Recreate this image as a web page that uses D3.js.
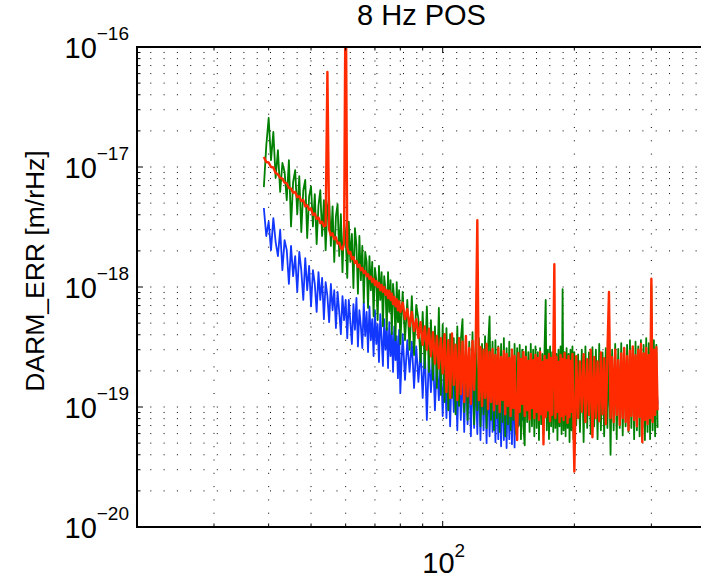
<!DOCTYPE html>
<html>
<head>
<meta charset="utf-8">
<script src="https://cdn.jsdelivr.net/npm/d3@7"></script>
<style>
  html, body { margin: 0; background: #fff; overflow: hidden; }
  svg { display: block; overflow: hidden; }
  text { font-family: "Liberation Sans", Arial, Helvetica, sans-serif; fill: #000; }
</style>
</head>
<body>
<svg id="chart" width="701" height="580"></svg>
<script>
// Frequency bins (Hz) shared by the three spectra
const freqHz = [
  39,39.5,40,40.5,41,41.5,42,42.5,43,43.5,
  44,44.5,45,45.5,46,46.5,47,47.5,48,48.5,
  49,49.5,50,50.5,51,51.5,52,52.5,53,53.5,
  54,54.5,55,55.5,56,56.5,57,57.5,58,58.5,
  59,59.5,60,
  60.5,61,61.5,62,62.5,63,63.5,64,64.5,65,
  65.5,66,66.5,67,67.5,68,68.5,69,69.5,70,
  70.5,71,71.5,72,72.5,73,73.5,74,74.5,75,
  75.5,76,76.5,77,77.5,78,78.5,79,79.5,80,
  81,82,83,84,85,86,87,88,89,90,
  91,92,93,94,95,96,97,98,99,100,
  101,102,103,104,105,106,107,108,109,110,
  111,112,113,114,115,116,117,118,119,120,
  121,122,123,124,125,126,127,128,129,130,
  131,132,133,134,135,136,137,138,139,140,
  141,142,143,144,145,146,147,148,149,150,
  151,152,153,154,155,156,157,158,159,160,
  161,162,163,164,165,166,167,168,169,170,
  171,172,173,174,175,176,177,178,179,180,
  181,182,183,184,185,186,187,188,189,190,
  191,192,193,194,195,196,197,198,199,200,
  202,204,206,208,210,212,214,216,218,220,
  222,224,226,228,230,232,234,236,238,240,
  242,244,246,248,250,252,254,256,258,260,
  262,264,266,268,270,272,274,276,278,280,
  282,284,286,288,290,292,294,296,298,300,
  302,304,306,308,310
];

// DARM_ERR amplitude spectral density, m/rHz (blue trace)
const asdBlue = [
  4.55e-18,2.66e-18,3.5e-18,2.03e-18,3.75e-18,2.37e-18,1.81e-18,3.0e-18,1.38e-18,2.46e-18,
  2.03e-18,1.06e-18,2.2e-18,1.23e-18,1.81e-18,9.1e-19,1.96e-18,1.38e-18,7.8e-19,1.74e-18,
  9.4e-19,1.5e-18,6.9e-19,1.38e-18,1.06e-18,6.2e-19,1.33e-18,7.8e-19,1.19e-18,5.4e-19,
  1.10e-18,8.4e-19,5.1e-19,1.06e-18,6.4e-19,9.4e-19,4.55e-19,9.1e-19,6.2e-19,4.05e-19,
  8.4e-19,5.3e-19,7.8e-19,
  3.75e-19,7.8e-19,5.1e-19,3.35e-19,7.2e-19,4.4e-19,8.1e-19,3.2e-19,6.4e-19,4.7e-19,
  3.1e-19,7.5e-19,3.9e-19,6.2e-19,2.87e-19,6.9e-19,3.6e-19,5.4e-19,2.66e-19,6.4e-19,
  3.35e-19,4.9e-19,2.37e-19,5.95e-19,3.75e-19,2.2e-19,5.4e-19,3.0e-19,4.55e-19,2.11e-19,
  5.1e-19,2.66e-19,4.2e-19,1.96e-19,4.7e-19,2.46e-19,3.9e-19,1.74e-19,4.4e-19,1.31e-19,
  4.05e-19,1.68e-19,3.6e-19,1.96e-19,3.5e-19,1.44e-19,3.2e-19,1.62e-19,3.0e-19,1.19e-19,
  3.1e-19,7.8e-20,2.77e-19,1.33e-19,2.87e-19,9.4e-20,2.56e-19,1.14e-19,2.66e-19,8.4e-20,
  2.46e-19,8.1e-20,2.28e-19,6.9e-20,2.56e-19,9.1e-20,2.2e-19,6.4e-20,2.37e-19,7.8e-20,
  2.11e-19,6.2e-20,2.28e-19,7.2e-20,2.03e-19,5.7e-20,2.2e-19,6.7e-20,1.96e-19,5.95e-20,
  2.11e-19,5.3e-20,2.03e-19,6.4e-20,1.88e-19,5.0e-20,1.96e-19,5.7e-20,1.81e-19,6.2e-20,
  2.03e-19,5.1e-20,1.88e-19,5.4e-20,1.74e-19,4.7e-20,1.96e-19,5.3e-20,1.81e-19,4.55e-20,
  1.88e-19,5.4e-20,1.74e-19,4.9e-20,1.96e-19,4.6e-20,1.81e-19,6.4e-20,1.68e-19,7.1e-20,
  1.88e-19,7.8e-20,1.74e-19,8.4e-20,1.81e-19,9.1e-20,1.68e-19,8.1e-20,1.74e-19,9.4e-20,
  1.62e-19,9.8e-20,1.81e-19,9.1e-20,1.68e-19,1.02e-19,1.74e-19,9.4e-20,1.62e-19,1.06e-19,
  1.81e-19,9.4e-20,1.68e-19,1.02e-19,1.74e-19,9.1e-20,1.62e-19,1.06e-19,1.81e-19,9.4e-20,
  1.68e-19,1.02e-19,1.74e-19,9.1e-20,1.62e-19,1.06e-19,1.81e-19,9.8e-20,1.68e-19,9.4e-20,
  1.74e-19,1.02e-19,1.62e-19,9.1e-20,1.81e-19,1.06e-19,1.68e-19,9.4e-20,1.74e-19,9.8e-20,
  9.6e-20,1.75e-19,1.04e-19,1.9e-19,9.8e-20,1.7e-19,1.0e-19,1.8e-19,9.5e-20,1.85e-19,
  1.05e-19,1.75e-19,9.8e-20,1.8e-19,1.02e-19,1.7e-19,9.6e-20,1.9e-19,1.0e-19,1.75e-19,
  9.8e-20,1.85e-19,1.04e-19,1.7e-19,9.5e-20,1.8e-19,1.02e-19,1.9e-19,9.8e-20,1.75e-19,
  1.0e-19,1.85e-19,9.6e-20,1.7e-19,1.05e-19,1.8e-19,9.8e-20,1.9e-19,1.0e-19,1.75e-19,
  9.5e-20,1.85e-19,1.04e-19,1.7e-19,9.8e-20,1.8e-19,1.02e-19,1.9e-19,9.6e-20,1.75e-19,
  1.0e-19,1.85e-19,9.8e-20,1.7e-19,1.05e-19
];

// DARM_ERR amplitude spectral density, m/rHz (green trace)
const asdGreen = [
  6.8e-18,1.5e-17,2.56e-17,1.14e-17,1.96e-17,8.1e-18,1.38e-17,6.2e-18,1.08e-17,9.1e-18,
  5.3e-18,1.14e-17,3.2e-18,7.5e-18,9.4e-18,4.05e-18,8.4e-18,2.87e-18,6.4e-18,7.8e-18,
  2.56e-18,5.7e-18,6.9e-18,3.2e-18,5.95e-18,2.28e-18,4.8e-18,6.4e-18,2.66e-18,5.3e-18,
  2.03e-18,4.55e-18,5.5e-18,2.2e-18,4.7e-18,1.62e-18,3.9e-18,4.9e-18,1.81e-18,4.05e-18,
  1.33e-18,3.5e-18,2.66e-18,
  1.19e-18,3.5e-18,1.62e-18,2.77e-18,9.8e-19,3.1e-18,2.2e-18,8.8e-19,2.66e-18,1.14e-18,
  2.2e-18,7.4e-19,1.96e-18,1.62e-18,6.7e-19,1.81e-18,9.4e-19,1.62e-18,5.7e-19,1.44e-18,
  1.14e-18,5.3e-19,1.5e-18,7.8e-19,1.33e-18,4.7e-19,1.23e-18,9.4e-19,4.4e-19,1.33e-18,
  6.2e-19,1.14e-18,4.05e-19,1.06e-18,7.8e-19,3.6e-19,1.10e-18,5.1e-19,9.4e-19,3.35e-19,
  9.1e-19,3.6e-19,7.8e-19,3.0e-19,8.4e-19,2.71e-19,7.1e-19,5.4e-19,2.37e-19,6.2e-19,
  2.11e-19,6.9e-19,1.96e-19,5.3e-19,1.68e-19,4.7e-19,1.44e-19,6.7e-19,1.26e-19,4.9e-19,
  1.10e-19,4.55e-19,9.4e-20,4.05e-19,1.19e-19,3.75e-19,8.7e-20,4.7e-19,1.02e-19,3.6e-19,
  5.4e-19,9.1e-20,3.9e-19,7.8e-20,3.5e-19,1.06e-19,4.2e-19,7.2e-20,3.6e-19,9.4e-20,
  3.75e-19,6.9e-20,3.35e-19,8.7e-20,3.9e-19,6.7e-20,3.2e-19,5.7e-19,7.8e-20,3.5e-19,
  6.4e-20,3.6e-19,8.1e-20,3.2e-19,6.2e-20,3.35e-19,7.5e-20,3.75e-19,5.7e-20,3.1e-19,
  7.2e-20,3.5e-19,6.4e-20,3.0e-19,7.8e-20,3.35e-19,5.95e-20,3.1e-19,6.9e-20,3.3e-19,
  5.4e-20,3.0e-19,6.7e-20,4.8e-20,3.2e-19,7.5e-20,2.87e-19,6.2e-20,3.35e-19,6.9e-20,
  3.0e-19,5.7e-20,3.2e-19,6.7e-20,2.87e-19,5.3e-20,3.1e-19,7.2e-20,2.77e-19,5.95e-20,
  3.2e-19,7.8e-19,6.4e-20,3.0e-19,5.4e-20,3.2e-19,6.9e-20,2.87e-19,6.2e-20,3.35e-19,
  6.7e-20,2.77e-19,5.3e-20,3.0e-19,6.9e-20,3.2e-19,5.95e-20,9.6e-19,6.4e-20,2.87e-19,
  5.7e-20,3.1e-19,6.7e-20,2.77e-19,5.1e-20,3.0e-19,6.4e-20,3.2e-19,5.4e-20,2.87e-19,
  7.1e-20,2.75e-19,6.2e-20,3.0e-19,5.1e-20,3.2e-19,6.7e-20,2.85e-19,5.95e-20,3.15e-19,
  6.9e-20,3.0e-19,5.4e-20,3.35e-19,6.4e-20,2.85e-19,5.7e-20,3.1e-19,6.7e-20,3.3e-19,
  4.0e-20,3.0e-19,6.4e-20,3.35e-19,5.4e-20,3.05e-19,6.7e-20,3.4e-19,5.8e-20,3.0e-19,
  6.9e-20,3.3e-19,6.2e-20,3.6e-19,6.7e-20,3.1e-19,5.4e-20,3.5e-19,6.4e-20,3.2e-19,
  5.7e-20,3.6e-19,6.7e-20,3.3e-19,5.3e-20,3.75e-19,6.2e-20,3.4e-19,5.4e-20,1.04e-18,
  6.4e-20,3.6e-19,5.7e-20,3.3e-19,6.7e-20
];

// DARM_ERR amplitude spectral density, m/rHz (red trace)
const asdRed = [
  1.21e-17,1.10e-17,1.09e-17,1.00e-17,9.9e-18,8.9e-18,8.7e-18,8.1e-18,8.0e-18,7.4e-18,
  7.3e-18,6.7e-18,6.6e-18,6.1e-18,6.2e-18,5.6e-18,5.7e-18,5.2e-18,5.3e-18,4.7e-18,
  4.8e-18,4.4e-18,4.5e-18,4.0e-18,4.1e-18,3.7e-18,3.8e-18,3.4e-18,3.5e-18,3.2e-18,
  3.25e-18,6.2e-17,3.0e-18,2.7e-18,2.8e-18,2.5e-18,2.6e-18,2.3e-18,2.35e-18,2.1e-18,
  2.05e-18,2.3e-18,5e-16,
  2.15e-18,1.9e-18,1.96e-18,1.71e-18,1.78e-18,1.58e-18,1.65e-18,1.47e-18,1.53e-18,1.38e-18,
  1.44e-18,1.31e-18,1.36e-18,1.23e-18,1.28e-18,1.17e-18,1.22e-18,1.10e-18,1.17e-18,1.04e-18,
  1.12e-18,1.0e-18,1.08e-18,9.4e-19,1.04e-18,9.1e-19,1.0e-18,8.6e-19,9.4e-19,8.1e-19,
  9.3e-19,7.8e-19,8.8e-19,7.2e-19,8.25e-19,6.9e-19,7.9e-19,6.4e-19,7.6e-19,6.2e-19,
  7.4e-19,5.4e-19,6.55e-19,4.7e-19,6.2e-19,4.3e-19,5.4e-19,3.75e-19,5.1e-19,3.3e-19,
  4.7e-19,3.0e-19,4.5e-19,2.65e-19,4.2e-19,2.3e-19,3.9e-19,2.1e-19,3.75e-19,1.9e-19,
  4.05e-19,1.33e-19,3.6e-19,1.19e-19,4.1e-19,1.53e-19,3.3e-19,1.14e-19,3.75e-19,1.28e-19,
  3.5e-19,1.10e-19,3.9e-19,1.23e-19,3.1e-19,1.06e-19,3.55e-19,1.39e-19,3.35e-19,3.6e-18,
  1.14e-19,3.16e-19,1.02e-19,3.0e-19,1.19e-19,3.35e-19,9.6e-20,2.87e-19,1.10e-19,3.04e-19,
  9.4e-20,2.71e-19,1.06e-19,3.1e-19,9.1e-20,2.61e-19,1.14e-19,2.93e-19,8.7e-20,2.77e-19,
  1.02e-19,2.56e-19,8.4e-20,3.0e-19,9.8e-20,2.66e-19,8.1e-20,5.3e-20,2.82e-19,9.1e-20,
  2.51e-19,1.06e-19,2.87e-19,8.4e-20,2.61e-19,9.4e-20,2.42e-19,7.9e-20,2.77e-19,9.8e-20,
  2.46e-19,8.1e-20,2.71e-19,9.1e-20,2.56e-19,7.8e-20,2.87e-19,8.7e-20,2.37e-19,4.9e-20,
  2.66e-19,8.25e-20,2.46e-19,9.4e-20,2.77e-19,7.6e-20,2.56e-19,8.6e-20,2.42e-19,1.55e-18,
  8.1e-20,2.61e-19,9.1e-20,2.37e-19,7.5e-20,2.71e-19,8.4e-20,2.51e-19,7.8e-20,2.82e-19,
  8.7e-20,2.46e-19,7.4e-20,2.66e-19,8.25e-20,2.42e-19,9.1e-20,2.77e-19,7.6e-20,2.9e-20,
  2.65e-19,8.1e-20,2.4e-19,9.1e-20,2.75e-19,7.5e-20,2.5e-19,8.6e-20,3.0e-19,5.6e-20,
  2.6e-19,8.1e-20,2.4e-19,7.6e-20,2.85e-19,8.7e-20,2.55e-19,7.2e-20,2.75e-19,9.1e-19,
  8.1e-20,2.6e-19,7.5e-20,3.0e-19,8.6e-20,2.45e-19,7.1e-20,2.8e-19,8.1e-20,3.1e-19,
  7.5e-20,2.65e-19,6.4e-20,2.95e-19,8.4e-20,3.2e-19,7.8e-20,2.7e-19,6.9e-20,3.0e-19,
  8.25e-20,3.35e-19,5.1e-20,2.8e-19,7.8e-20,3.1e-19,7.2e-20,2.7e-19,8.1e-20,1.17e-18,
  7.5e-20,3.0e-19,8.6e-20,3.15e-19,9.4e-20
];

// Axis labelling
const yTickExponents = [-20, -19, -18, -17, -16];
const xTickExponents = [2];
const chartTitle = "8 Hz POS";
const yAxisLabel = "DARM_ERR [m/rHz]";

// Traces, drawn back to front
const traces = [
  { values: asdBlue,  color: "#1238ff", width: 1.8 },
  { values: asdGreen, color: "#008000", width: 1.8 },
  { values: asdRed,   color: "#ff2a00", width: 2.4 }
];

const W = 701, H = 580;
const plot = { left: 137, top: 47, right: 706, bottom: 527 };
const visibleRight = Math.min(plot.right, W);

const x = d3.scaleLog().domain([20, 400]).range([plot.left, plot.right]);
const y = d3.scaleLog().domain([1e-20, 1e-16]).range([plot.bottom, plot.top]);

const svg = d3.select("#chart");

svg.append("defs").append("clipPath").attr("id", "plotClip")
  .append("rect")
  .attr("x", plot.left).attr("y", plot.top)
  .attr("width", visibleRight - plot.left).attr("height", plot.bottom - plot.top);

// Dotted grid on every major and minor decade line
const grid = svg.append("g")
  .attr("stroke", "#000")
  .attr("stroke-width", 1)
  .attr("stroke-dasharray", "1,12.3")
  .attr("fill", "none");

const yGrid = y.ticks().filter(v => v > 1.0001e-20 && v < 0.9999e-16);
const xGrid = x.ticks().filter(v => v > 20.001 && x(v) < visibleRight - 1);

grid.selectAll("line.h").data(yGrid).join("line")
  .attr("class", "h")
  .attr("x1", plot.left).attr("x2", visibleRight)
  .attr("y1", d => y(d)).attr("y2", d => y(d));

grid.selectAll("line.v").data(xGrid).join("line")
  .attr("class", "v")
  .attr("x1", d => x(d)).attr("x2", d => x(d))
  .attr("y1", plot.bottom).attr("y2", plot.top);

// Spectra
const line = d3.line()
  .x(d => x(d.f))
  .y(d => y(d.v));

const traceLayer = svg.append("g").attr("clip-path", "url(#plotClip)");
traces.forEach(t => {
  const n = Math.min(freqHz.length, t.values.length);
  const pts = d3.range(n).map(i => ({ f: freqHz[i], v: t.values[i] }));
  traceLayer.append("path")
    .datum(pts)
    .attr("fill", "none")
    .attr("stroke", t.color)
    .attr("stroke-width", t.width)
    .attr("stroke-linejoin", "round")
    .attr("d", line);
});

// Inward tick marks (long on decades, short on minor lines)
const isDecade = v => Math.abs(Math.log10(v) - Math.round(Math.log10(v))) < 1e-6;
const ticks = svg.append("g").attr("stroke", "#000").attr("stroke-width", 1);
const yTickVals = y.ticks();
ticks.selectAll("line.yt").data(yTickVals).join("line")
  .attr("x1", plot.left).attr("x2", d => plot.left + (isDecade(d) ? 6 : 3.5))
  .attr("y1", d => y(d)).attr("y2", d => y(d));
const xTickVals = x.ticks().filter(v => x(v) < visibleRight - 1);
ticks.selectAll("line.xb").data(xTickVals).join("line")
  .attr("x1", d => x(d)).attr("x2", d => x(d))
  .attr("y1", plot.bottom).attr("y2", d => plot.bottom - (isDecade(d) ? 6 : 3.5));
ticks.selectAll("line.xt").data(xTickVals).join("line")
  .attr("x1", d => x(d)).attr("x2", d => x(d))
  .attr("y1", plot.top).attr("y2", d => plot.top + (isDecade(d) ? 6 : 3.5));

// Axes frame (the right edge lies just past the page)
const frame = svg.append("g").attr("stroke", "#000").attr("stroke-width", 2).attr("fill", "none");
frame.append("line").attr("x1", plot.left).attr("x2", plot.left).attr("y1", plot.top - 1).attr("y2", plot.bottom + 1);
frame.append("line").attr("x1", plot.left).attr("x2", visibleRight).attr("y1", plot.bottom).attr("y2", plot.bottom);
frame.append("line").attr("x1", plot.left).attr("x2", visibleRight).attr("y1", plot.top).attr("y2", plot.top);

// Power-of-ten tick labels
yTickExponents.forEach(e => {
  const t = svg.append("text")
    .attr("x", plot.left - 8)
    .attr("y", y(Math.pow(10, e)) + 11)
    .attr("text-anchor", "end")
    .style("font-size", "29px");
  t.append("tspan").text("10");
  t.append("tspan").attr("dy", -18).style("font-size", "19px").text("\u2212" + Math.abs(e));
});

xTickExponents.forEach(e => {
  const t = svg.append("text")
    .attr("x", x(Math.pow(10, e)) + 1)
    .attr("y", 573)
    .attr("text-anchor", "middle")
    .style("font-size", "29px");
  t.append("tspan").text("10");
  t.append("tspan").attr("dy", -16).style("font-size", "19px").text(String(e));
});

// Title and axis label
svg.append("text")
  .attr("x", 421.5).attr("y", 25)
  .attr("text-anchor", "middle")
  .style("font-size", "29px")
  .text(chartTitle);

svg.append("text")
  .attr("transform", "translate(44,271) rotate(-90)")
  .attr("text-anchor", "middle")
  .style("font-size", "26.5px")
  .text(yAxisLabel);
</script>
</body>
</html>
